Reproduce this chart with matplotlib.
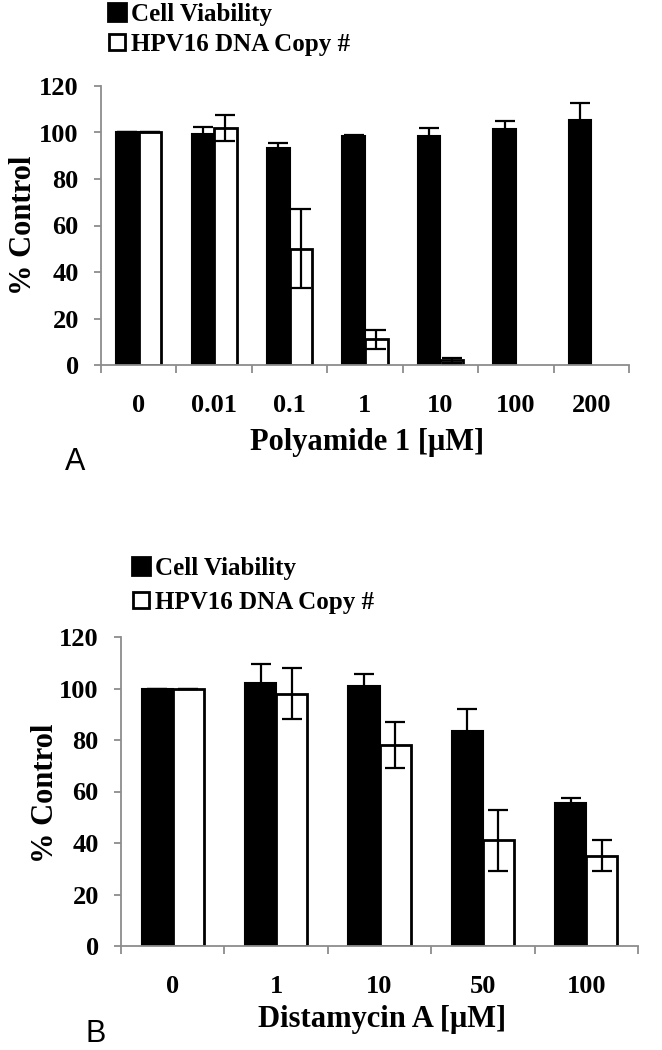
import matplotlib
matplotlib.use("Agg")
import matplotlib.pyplot as plt
from matplotlib.lines import Line2D

# panel A data
doses_a = ["0", "0.01", "0.1", "1", "10", "100", "200"]
viab_a = [100, 99.5, 93.5, 98.5, 98.5, 101.5, 105.5]
viab_err_a = [0, 3, 2, 0.5, 3.5, 3.5, 7]
hpv_a = [100, 102, 50, 11, 2, None, None]
hpv_err_a = [0, 5.5, 17, 4, 1, None, None]

# panel B data
doses_b = ["0", "1", "10", "50", "100"]
viab_b = [100, 102, 101, 83.5, 55.5]
viab_err_b = [0, 7.5, 4.5, 8.5, 2]
hpv_b = [100, 98, 78, 41, 35]
hpv_err_b = [0, 10, 9, 12, 6]

serif = "Liberation Serif"
grey = "#8c8c8c"


def draw_panel(ax, doses, viab, viab_err, hpv, hpv_err, xlabel, xlab_pos, ylab_pos):
    n = len(doses)
    centers = [i + 0.5 for i in range(n)]
    w = 0.3
    ax.bar([c - w / 2 for c in centers], viab, w, color="black",
           edgecolor="black", linewidth=1.5, zorder=2)
    ax.errorbar([c - w / 2 for c in centers], viab, yerr=viab_err, fmt="none",
                ecolor="black", elinewidth=1.6, capsize=7, capthick=1.6, zorder=3)
    hx = [c + w / 2 for c, v in zip(centers, hpv) if v is not None]
    hv = [v for v in hpv if v is not None]
    he = [e for e in hpv_err if e is not None]
    ax.bar(hx, hv, w, color="white", edgecolor="black", linewidth=2, zorder=2)
    ax.errorbar(hx, hv, yerr=he, fmt="none", ecolor="black",
                elinewidth=1.6, capsize=7, capthick=1.6, zorder=3)

    ax.set_xlim(0, n)
    ax.set_ylim(0, 120)
    ax.set_yticks(range(0, 121, 20))
    ax.set_xticks(range(n + 1))
    ax.set_xticklabels([])
    ax.set_xticks(centers, minor=True)
    ax.set_xticklabels(doses, minor=True)
    ax.tick_params(axis="x", which="minor", length=0, pad=21)
    ax.tick_params(axis="x", which="major", length=6, width=1.3, color=grey)
    ax.tick_params(axis="y", length=5, width=1.3, color=grey, pad=11)
    for lab in ax.get_xticklabels(minor=True) + ax.get_yticklabels():
        lab.set_fontfamily(serif)
        lab.set_fontweight("bold")
        lab.set_fontsize(19)
    for s in ["top", "right"]:
        ax.spines[s].set_visible(False)
    for s in ["left", "bottom"]:
        ax.spines[s].set_color(grey)
        ax.spines[s].set_linewidth(1.3)
    ax.set_xlabel(xlabel, fontfamily=serif, fontweight="bold", fontsize=22)
    ax.set_ylabel("% Control", fontfamily=serif, fontweight="bold", fontsize=22)
    ax.xaxis.set_label_coords(*xlab_pos)
    ax.xaxis.label.set_va("center")
    ax.yaxis.set_label_coords(*ylab_pos)
    ax.yaxis.label.set_va("center")


fig = plt.figure(figsize=(6.62, 10.5), dpi=100)
ax_a = fig.add_axes([101 / 662, 1 - 365 / 1050, 528 / 662, 279 / 1050])
ax_b = fig.add_axes([121 / 662, 1 - 946 / 1050, 517 / 662, 309 / 1050])

draw_panel(ax_a, doses_a, viab_a, viab_err_a, hpv_a, hpv_err_a, "Polyamide 1 [μM]",
           (0.504, -0.276), (-0.147, 0.50))
draw_panel(ax_b, doses_b, viab_b, viab_err_b, hpv_b, hpv_err_b, "Distamycin A [μM]",
           (0.505, -0.239), (-0.147, 0.495))

handles = [
    Line2D([], [], marker="s", linestyle="none", markersize=13,
           markerfacecolor="black", markeredgecolor="black", markeredgewidth=2),
    Line2D([], [], marker="s", linestyle="none", markersize=12,
           markerfacecolor="white", markeredgecolor="black", markeredgewidth=2),
]
labels = ["Cell Viability", "HPV16 DNA Copy #"]
for x0, y0, sp in [(106 / 662, 1.0, 0.3), (130 / 662, 1 - 554 / 1050, 0.45)]:
    fig.legend(handles, labels, loc="upper left", bbox_to_anchor=(x0, y0),
               frameon=False, borderpad=0.1, borderaxespad=0, handlelength=0.7,
               handletextpad=0.2, labelspacing=sp,
               prop={"family": serif, "weight": "bold", "size": 18})

fig.text(75 / 662, 1 - 462 / 1050, "A", fontfamily="Liberation Sans",
         fontsize=22, ha="center", va="center")
fig.text(96 / 662, 1 - 1034 / 1050, "B", fontfamily="Liberation Sans",
         fontsize=22, ha="center", va="center")

fig.savefig("out.png", dpi=100)
